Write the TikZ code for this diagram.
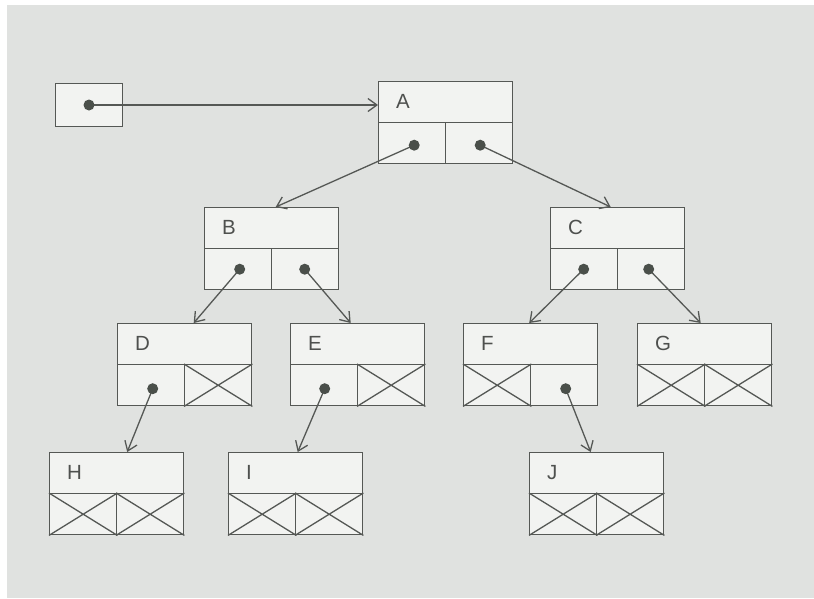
\documentclass[tikz,border=0pt]{standalone}
\usepackage{fontspec}
\setmainfont{Liberation Sans}
\usetikzlibrary{arrows.meta}
\definecolor{bgc}{HTML}{E0E2E0}
\definecolor{boxc}{HTML}{F2F3F1}
\definecolor{linec}{HTML}{555855}
\definecolor{dotfill}{HTML}{4A4F4A}
\definecolor{textc}{HTML}{4E504E}
\tikzset{
  cell/.style={draw=linec, fill=boxc, line width=1.4pt, minimum width=67pt, minimum height=41pt, inner sep=0pt, anchor=north west},
  namecell/.style={cell, minimum width=134pt},
  lbl/.style={anchor=west, inner sep=0pt, text=textc, font=\fontsize{20.5}{20.5}\selectfont},
  ptr/.style={draw=linec, line width=1.3pt, -{Straight Barb[length=9pt,width=13pt,line width=1.3pt]}},
  dotmark/.style={circle, fill=dotfill, inner sep=0pt, minimum size=11pt},
  nullx/.style={draw=linec, line width=1.3pt},
  pics/treebox/.style={code={
    \node[namecell] (-top) at (0,0) {};
    \node[cell] (-l) at (0,41) {};
    \node[cell] (-r) at (67,41) {};
    \node[lbl] (-t) at (18,20.5) {#1};
  }}
}
\begin{document}
\begin{tikzpicture}[x=1pt,y=-1pt]
\useasboundingbox (0,0) rectangle (814,598);
\fill[bgc] (0,0) rectangle (814,598);
\fill[white] (0,0) rectangle (814,5);
\fill[white] (0,0) rectangle (7,598);

% start box
\node[cell, minimum height=43pt] (S) at (55,83) {};

% tree boxes
\pic (A) at (378,81) {treebox=A};
\pic (B) at (204,207) {treebox=B};
\pic (C) at (550,207) {treebox=C};
\pic (D) at (117,323) {treebox=D};
\pic (E) at (290,323) {treebox=E};
\pic (F) at (463,323) {treebox=F};
\pic (G) at (637,323) {treebox=G};
\pic (H) at (49,452) {treebox=H};
\pic (I) at (228,452) {treebox=I};
\pic (J) at (529,452) {treebox=J};

% null pointers
\foreach \c in {D-r,E-r,F-l,G-l,G-r,H-l,H-r,I-l,I-r,J-l,J-r}{
  \draw[nullx] (\c.north west) -- (\c.south east) (\c.south west) -- (\c.north east);
}

% pointer origins
\coordinate (S-p) at (89,105);
\coordinate (A-lp) at ([shift={(2,2)}]A-l.center);
\coordinate (A-rp) at ([shift={(1,2)}]A-r.center);
\coordinate (B-lp) at ([shift={(1.5,0)}]B-l.center);
\coordinate (B-rp) at ([shift={(-0.5,0)}]B-r.center);
\coordinate (C-lp) at ([shift={(-0.5,0)}]C-l.center);
\coordinate (C-rp) at ([shift={(-2.5,0)}]C-r.center);
\coordinate (D-lp) at ([shift={(1.5,3.5)}]D-l.center);
\coordinate (E-lp) at ([shift={(0.5,3.5)}]E-l.center);
\coordinate (F-rp) at ([shift={(1.5,3.5)}]F-r.center);

% pointers
\draw[ptr] (S-p) -- (S-p -| A-top.west);
\draw[ptr] (A-lp) -- ([xshift=4pt]B-top.north);
\draw[ptr] (A-rp) -- ([xshift=-7pt]C-top.north);
\draw[ptr] (B-lp) -- ([xshift=9pt]D-top.north);
\draw[ptr] (B-rp) -- ([xshift=-7pt]E-top.north);
\draw[ptr] (C-lp) -- ([xshift=-1.5pt]F-top.north);
\draw[ptr] (C-rp) -- ([xshift=-4pt]G-top.north);
\draw[ptr] (D-lp) -- ([xshift=10.5pt]H-top.north);
\draw[ptr] (E-lp) -- ([xshift=2pt]I-top.north);
\draw[ptr] (F-rp) -- ([xshift=-6pt]J-top.north);

% dots
\foreach \p in {S-p,A-lp,A-rp,B-lp,B-rp,C-lp,C-rp,D-lp,E-lp,F-rp}{
  \node[dotmark] (\p-dot) at (\p) {};
}
\end{tikzpicture}
\end{document}
